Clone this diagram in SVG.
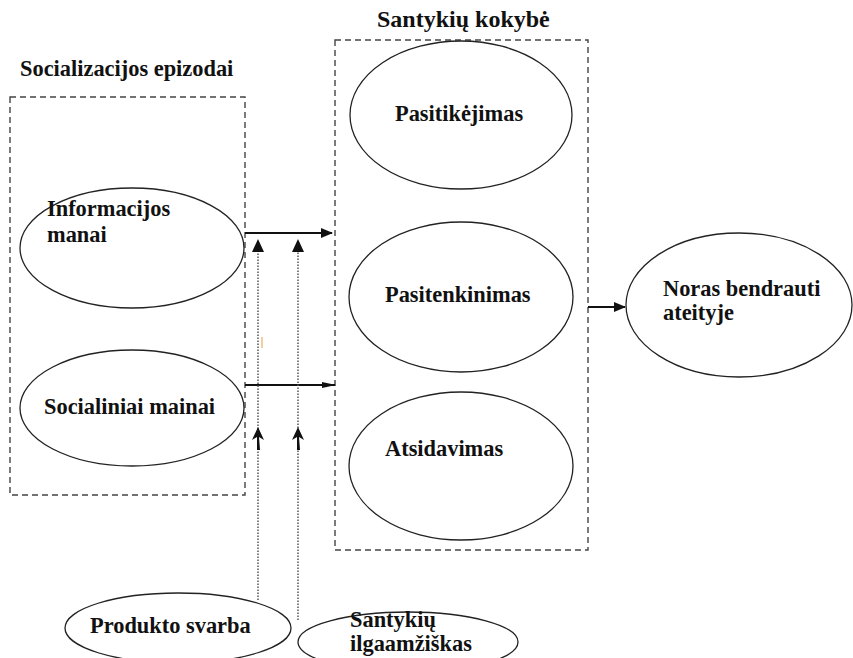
<svg xmlns="http://www.w3.org/2000/svg" width="853" height="658" viewBox="0 0 853 658">
<defs>
<style>
.box{fill:none;stroke:#444;stroke-width:1.4;stroke-dasharray:6 4}
.el{fill:#fff;stroke:#222;stroke-width:1.3}
.t{font-family:'Liberation Serif','Times New Roman','DejaVu Serif',serif;font-weight:bold;font-size:22.4px;fill:#111}
.arr{stroke:#111;stroke-width:2;fill:none}
.dot{stroke:#555;stroke-width:1.5;stroke-dasharray:1.5 1.5;fill:none}
</style>
<marker id="ah" markerWidth="12" markerHeight="10" refX="11" refY="5" orient="auto" markerUnits="userSpaceOnUse">
<path d="M0,0 L12,5 L0,10 Z" fill="#111"/>
</marker>
<marker id="ah2" markerWidth="14" markerHeight="10" refX="13" refY="5" orient="auto" markerUnits="userSpaceOnUse">
<path d="M0,2 L14,5 L0,8 Z" fill="#111"/>
</marker>
</defs>
<g id="titles">
<text class="t" x="20" y="76">Socializacijos epizodai</text>
<text class="t" x="377" y="27" style="font-size:24px">Santykių kokybė</text>
</g>
<g id="group-left"><rect class="box" x="10" y="97" width="235" height="398"/></g>
<g id="group-right"><rect class="box" x="335" y="40" width="253" height="510"/></g>
<g id="connectors">
<line class="arr" x1="245" y1="233" x2="332" y2="233" marker-end="url(#ah)"/>
<line class="arr" x1="245" y1="385" x2="335" y2="385" marker-end="url(#ah2)"/>
<line class="arr" x1="588" y1="307" x2="625" y2="307" marker-end="url(#ah)"/>
<line class="dot" x1="258" y1="600" x2="258" y2="248"/>
<line class="dot" x1="298" y1="620" x2="298" y2="248"/>
<path d="M252,252 L258,239 L264,252 Z" fill="#111"/>
<path d="M292,252 L298,239 L304,252 Z" fill="#111"/>
<path d="M252,440 L258,427 L264,440 L259,437 L260,450 L257,450 L257,437 Z" fill="#111"/>
<path d="M292,440 L298,427 L304,440 L299,437 L300,450 L297,450 L297,437 Z" fill="#111"/>
<line x1="262" y1="337" x2="262" y2="348" stroke="#e8a040" stroke-width="1"/>
</g>
<g id="informacijos"><ellipse class="el" cx="132" cy="248" rx="112" ry="60"/>
<text class="t" x="47" y="216">Informacijos</text><text class="t" x="47" y="242">manai</text></g>
<g id="socialiniai"><ellipse class="el" cx="132" cy="408" rx="112" ry="58"/>
<text class="t" x="44" y="414">Socialiniai mainai</text></g>
<g id="pasitikejimas"><ellipse class="el" cx="461" cy="115" rx="111" ry="74"/>
<text class="t" x="395" y="121">Pasitikėjimas</text></g>
<g id="pasitenkinimas"><ellipse class="el" cx="461" cy="297" rx="112" ry="75"/>
<text class="t" x="385" y="302">Pasitenkinimas</text></g>
<g id="atsidavimas"><ellipse class="el" cx="461" cy="466" rx="112" ry="74"/>
<text class="t" x="385" y="456">Atsidavimas</text></g>
<g id="noras"><ellipse class="el" cx="739" cy="305" rx="113" ry="72"/>
<text class="t" x="663" y="296">Noras bendrauti</text><text class="t" x="663" y="320">ateityje</text></g>
<g id="produkto"><ellipse class="el" cx="178" cy="628" rx="113" ry="35"/>
<text class="t" x="90" y="633">Produkto svarba</text></g>
<g id="santykiu"><ellipse class="el" cx="408" cy="642" rx="110" ry="30"/>
<text class="t" x="350" y="627">Santykių</text><text class="t" x="350" y="651">ilgaamžiškas</text></g>
</svg>
